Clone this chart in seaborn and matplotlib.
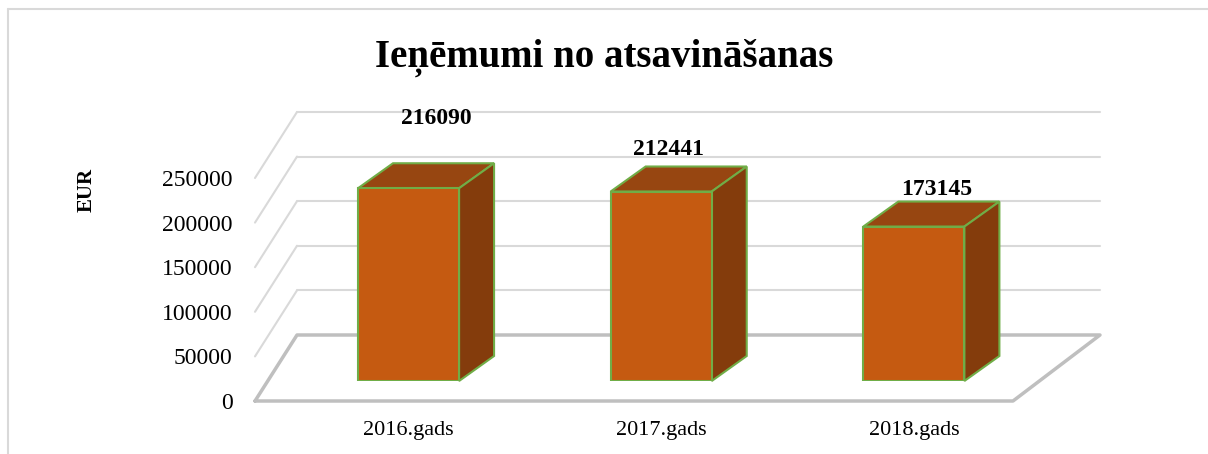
"""
3D-style bar chart: Ieņēmumi no atsavināšanas (2016-2018)
"""

import matplotlib
matplotlib.use("Agg")
import matplotlib.pyplot as plt
from matplotlib.patches import Polygon
from matplotlib.lines import Line2D
import seaborn as sns


# Data
years = ["2016.gads", "2017.gads", "2018.gads"]
income = [216090, 212441, 173145]
y_ticks = [0, 50000, 100000, 150000, 200000, 250000]
title = "Ieņēmumi no atsavināšanas"
y_label = "EUR"

# where each value label sits relative to its bar top (x in bar units, y in EUR)
label_dx = [0.11, 0.03, 0.09]
label_dy = [78000, 47000, 41000]

# Colours
front_col = "#C55A11"
top_col = "#974611"
side_col = "#843C0C"
edge_col = "#70AD47"
grid_col = "#D9D9D9"
floor_col = "#BFBFBF"

sns.set_theme(style="white")
plt.rcParams["font.family"] = ["Liberation Serif", "DejaVu Serif"]
plt.rcParams["text.color"] = "black"
plt.rcParams["xtick.color"] = "black"
plt.rcParams["ytick.color"] = "black"

W, H = 1208, 454
fig = plt.figure(figsize=(W / 100, H / 100), dpi=100)


def px_rect(left, top, right, bottom):
    return [left / W, 1 - bottom / H, (right - left) / W, (bottom - top) / H]


# Front plane of the floor: carries the value axis labels and the walls
ax_front = fig.add_axes(px_rect(255, 178, 1013, 401))
ax_front.set_xlim(-0.5, 2.5)
ax_front.set_ylim(0, 250000)
ax_front.patch.set_alpha(0)
for s in ax_front.spines.values():
    s.set_visible(False)
ax_front.set_xticks([])
ax_front.set_yticks(y_ticks)
ax_front.set_yticklabels([str(t) for t in y_ticks], fontsize=17)
ax_front.tick_params(axis="y", length=0, pad=16)

# depth of the floor, expressed in front-plane units
depth_y = 66 / 223 * 250000
k_left, k_right = 42 / 252.67, 87 / 252.67


def back_x(x):
    return x + k_left + (x + 0.5) / 3 * (k_right - k_left)


bl, br = back_x(-0.5), back_x(2.5)
for t in y_ticks[1:]:
    ax_front.plot([-0.5, bl], [t, t + depth_y], color=grid_col, lw=1.5, clip_on=False, zorder=1)
    ax_front.plot([bl, br], [t + depth_y, t + depth_y], color=grid_col, lw=1.5, clip_on=False, zorder=1)

floor_x = [-0.5, 2.5, br, bl, -0.5]
floor_y = [0, 0, depth_y, depth_y, 0]
ax_front.plot(floor_x, floor_y, color=floor_col, lw=2.5, clip_on=False, zorder=2)

# Bars: front faces drawn by seaborn, top and side faces added from the same bars
ax_bars = fig.add_axes(px_rect(282.2, 158, 282.2 + 758, 381))
sns.barplot(x=years, y=income, ax=ax_bars, color=front_col, saturation=1,
            width=0.4, edgecolor=edge_col, linewidth=1.5, zorder=3)
ax_bars.set_xlim(-0.5, 2.5)
ax_bars.set_ylim(0, 250000)
ax_bars.patch.set_alpha(0)
for s in ax_bars.spines.values():
    s.set_visible(False)
ax_bars.set_yticks([])
ax_bars.set_xlabel("")
ax_bars.set_ylabel("")
ax_bars.tick_params(axis="x", length=0, pad=29, labelsize=16)

bdx = 35 / 252.67
bdy = 25 / 223 * 250000
for i, bar in enumerate(ax_bars.patches):
    x0 = bar.get_x()
    x1 = x0 + bar.get_width()
    h = bar.get_height()
    top = Polygon([(x0, h), (x1, h), (x1 + bdx, h + bdy), (x0 + bdx, h + bdy)],
                  closed=True, facecolor=top_col, edgecolor=edge_col, lw=1.5,
                  clip_on=False, zorder=2)
    side = Polygon([(x1, 0), (x1 + bdx, bdy), (x1 + bdx, h + bdy), (x1, h)],
                   closed=True, facecolor=side_col, edgecolor=edge_col, lw=1.5,
                   clip_on=False, zorder=2)
    ax_bars.add_patch(top)
    ax_bars.add_patch(side)
    cx = x0 + bar.get_width() / 2
    ax_bars.text(cx + label_dx[i], h + label_dy[i], str(income[i]),
                 ha="center", va="center", fontsize=17, fontweight="bold",
                 clip_on=False)

# Title, axis name and the chart frame
fig.text(604 / W, 1 - 58 / H, title, ha="center", va="center",
         fontsize=28, fontweight="bold")
fig.text(87 / W, 1 - 190 / H, y_label, ha="center", va="center",
         rotation=90, fontsize=15, fontweight="bold")
fig.add_artist(Line2D([8 / W, 1], [1 - 9 / H, 1 - 9 / H], color=grid_col, lw=1.5))
fig.add_artist(Line2D([8 / W, 8 / W], [0, 1 - 9 / H], color=grid_col, lw=1.5))

fig.savefig("out.png", dpi=100)
